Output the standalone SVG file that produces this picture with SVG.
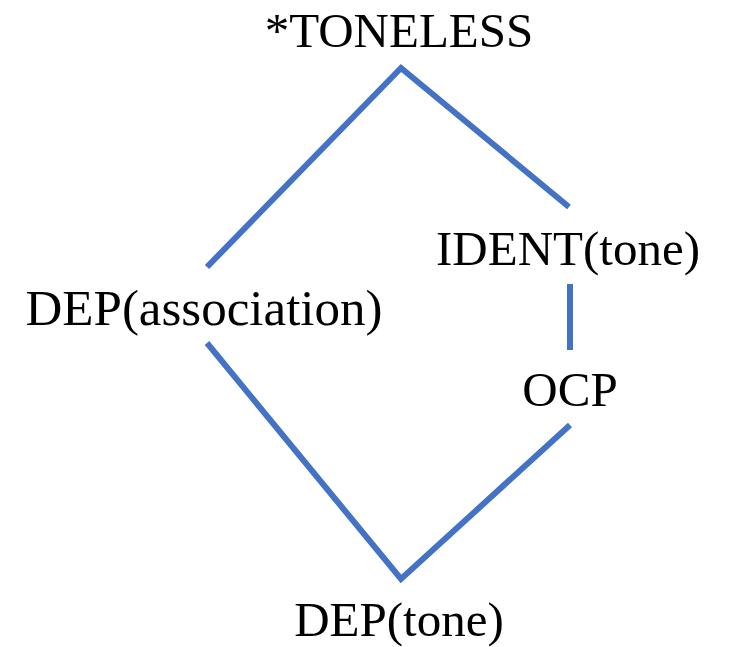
<svg xmlns="http://www.w3.org/2000/svg" width="730" height="647" viewBox="0 0 730 647">
<style>
.t{font-family:"Liberation Serif","Times New Roman",serif;font-size:49px;fill:#000;text-anchor:middle}
.c{stroke:#4472C4;stroke-width:6;fill:none;stroke-linejoin:miter}
</style>
<rect width="730" height="647" fill="#fff"/>
<g id="connectors">
<polyline class="c" points="207,267 401,68 569,207"/>
<line class="c" x1="570" y1="284" x2="570" y2="350"/>
<polyline class="c" points="207,343 401,579 570,425"/>
</g>
<g id="toneless"><text class="t" x="399" y="47">*TONELESS</text></g>
<g id="dep-association"><text class="t" x="204" y="325" style="font-size:51px">DEP(association)</text></g>
<g id="ident-tone"><text class="t" x="568" y="265">IDENT(tone)</text></g>
<g id="ocp"><text class="t" x="570" y="406">OCP</text></g>
<g id="dep-tone"><text class="t" x="399" y="636">DEP(tone)</text></g>
</svg>
